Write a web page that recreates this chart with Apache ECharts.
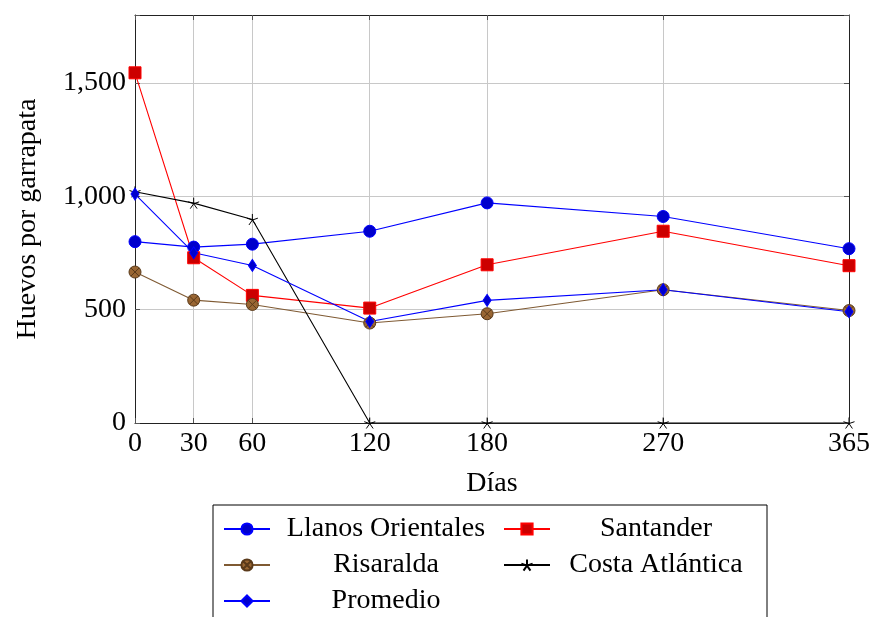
<!DOCTYPE html>
<html>
<head>
<meta charset="utf-8">
<title>Huevos por garrapata</title>
<script src="https://cdn.jsdelivr.net/npm/echarts@6/dist/echarts.min.js"></script>
<style>
  html, body { margin: 0; padding: 0; background: #ffffff; }
  #chart { width: 869px; height: 617px; }
</style>
</head>
<body>
<div id="chart"></div>
<script>
// Days after the start of the study
const days = [0, 30, 60, 120, 180, 270, 365];

// Eggs per tick for each region
const llanosOrientales = [800, 776, 789, 846, 971, 911, 769];
const santander        = [1545, 729, 563, 507, 698, 846, 694];
const risaralda        = [666, 542, 523, 441, 482, 588, 496];
const costaAtlantica   = [1020, 970, 898, 0, 0, 0, 0];
const promedio         = [1010, 751, 695, 448, 541, 588, 491];

const yTicks = [0, 500, 1000, 1500];

const FONT = 'Liberation Serif';
const pairs = vals => days.map((d, i) => [d, vals[i]]);

// Marker shapes: circle with a cross, and a five-ray asterisk
const circleCross = 'path://M10,0 A10,10 0 1,1 10,20 A10,10 0 1,1 10,0 Z M2.93,2.93 L17.07,17.07 M17.07,2.93 L2.93,17.07';
const asterisk = 'path://M10,10 L10,0 M10,10 L0.49,6.91 M10,10 L4.12,18.09 M10,10 L15.88,18.09 M10,10 L19.51,6.91';

const leftColumn = ['Llanos Orientales', 'Risaralda', 'Promedio'];

function fmt(v) {
  return String(v).replace(/\B(?=(\d{3})+(?!\d))/g, ',');
}

const chart = echarts.init(document.getElementById('chart'), null, { renderer: 'canvas' });

const makeSeries = (name, data, color, symbol, size, fill, border) => ({
  name: name,
  type: 'line',
  data: pairs(data),
  xAxisIndex: 0,
  yAxisIndex: 0,
  symbol: symbol,
  symbolSize: size,
  showSymbol: true,
  lineStyle: { color: color, width: 1.1 },
  itemStyle: { color: fill, borderColor: border, borderWidth: 1 },
  emphasis: { disabled: true },
  animation: false
});

chart.setOption({
  backgroundColor: '#ffffff',
  animation: false,
  textStyle: { fontFamily: FONT, color: '#000' },
  grid: { left: 135, right: 20, top: 15, bottom: 194, outerBoundsMode: 'none', containLabel: false },
  xAxis: [{
    type: 'value',
    min: 0,
    max: 365,
    position: 'bottom',
    name: 'Días',
    nameLocation: 'middle',
    nameGap: 47,
    nameTextStyle: { fontFamily: FONT, fontSize: 28, color: '#000' },
    axisLine: { show: true, onZero: false, lineStyle: { color: '#222', width: 1 } },
    axisTick: { show: true, inside: true, length: 5, customValues: days, lineStyle: { color: '#555' } },
    axisLabel: { customValues: days, fontFamily: FONT, fontSize: 28, color: '#000', margin: 7 },
    splitLine: { show: true, lineStyle: { color: '#c8c8c8', width: 1 } }
  }, {
    type: 'value',
    min: 0,
    max: 365,
    position: 'top',
    axisLine: { show: true, onZero: false, lineStyle: { color: '#222', width: 1 } },
    axisTick: { show: true, inside: true, length: 5, customValues: days, lineStyle: { color: '#555' } },
    axisLabel: { show: false },
    splitLine: { show: false }
  }],
  yAxis: [{
    type: 'value',
    min: 0,
    max: 1800,
    interval: 500,
    position: 'left',
    name: 'Huevos por garrapata',
    nameLocation: 'middle',
    nameGap: 93,
    nameTextStyle: { fontFamily: FONT, fontSize: 28, color: '#000' },
    axisLine: { show: true, onZero: false, lineStyle: { color: '#222', width: 1 } },
    axisTick: { show: true, inside: true, length: 5, lineStyle: { color: '#555' } },
    axisLabel: {
      fontFamily: FONT, fontSize: 28, color: '#000', margin: 9,
      formatter: v => (yTicks.indexOf(v) >= 0 ? fmt(v) : '')
    },
    splitLine: { show: true, lineStyle: { color: '#c8c8c8', width: 1 } }
  }, {
    type: 'value',
    min: 0,
    max: 1800,
    interval: 500,
    position: 'right',
    axisLine: { show: true, onZero: false, lineStyle: { color: '#222', width: 1 } },
    axisTick: { show: true, inside: true, length: 5, lineStyle: { color: '#555' } },
    axisLabel: { show: false },
    splitLine: { show: false }
  }],
  legend: {
    left: 213,
    top: 505,
    width: 540,
    orient: 'horizontal',
    padding: [9, 10, 30, 10],
    itemGap: 6,
    itemWidth: 46,
    itemHeight: 14,
    borderColor: '#000',
    borderWidth: 1,
    selectedMode: false,
    data: ['Llanos Orientales', 'Santander', 'Risaralda', 'Costa Atlántica', 'Promedio'],
    formatter: name => (leftColumn.indexOf(name) >= 0 ? '{a|' + name + '}' : '{b|' + name + '}'),
    textStyle: {
      fontFamily: FONT, fontSize: 28, color: '#000', lineHeight: 30,
      rich: {
        a: { width: 222, align: 'center', fontFamily: FONT, fontSize: 28, color: '#000', lineHeight: 30 },
        b: { width: 202, align: 'center', fontFamily: FONT, fontSize: 28, color: '#000', lineHeight: 30 }
      }
    }
  },
  series: [
    makeSeries('Llanos Orientales', llanosOrientales, '#0000ff', 'circle', 12, '#0000cc', '#0000ff'),
    makeSeries('Santander', santander, '#ff0000', 'rect', 12, '#cc0000', '#ff0000'),
    makeSeries('Risaralda', risaralda, '#7f5a33', circleCross, 12, '#996633', '#5a3a1a'),
    makeSeries('Costa Atlántica', costaAtlantica, '#000000', asterisk, 11, 'rgba(0,0,0,0)', '#000000'),
    makeSeries('Promedio', promedio, '#0000ff', 'diamond', [8, 12], '#0000cc', '#0000ff')
  ]
});
</script>
</body>
</html>
